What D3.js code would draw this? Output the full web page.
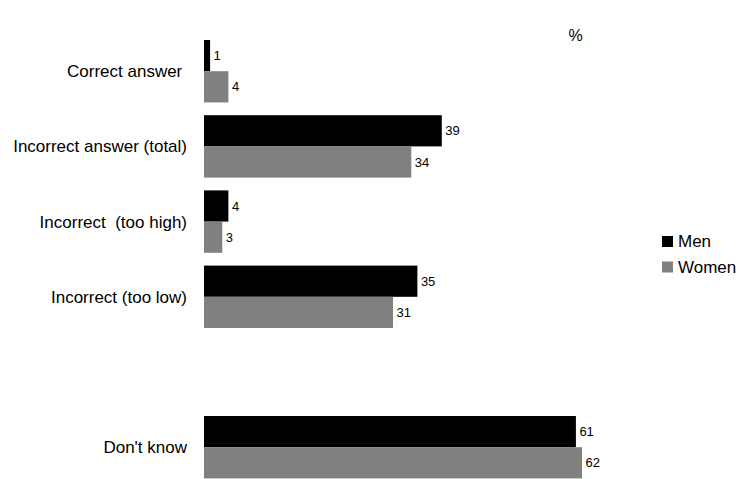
<!DOCTYPE html>
<html><head><meta charset="utf-8">
<script src="https://cdn.jsdelivr.net/npm/d3@7"></script>
<style>body{margin:0;background:#fff}svg{display:block;font-family:"Liberation Sans",Arial,sans-serif}</style>
</head><body><svg id="c" width="739" height="479"></svg>
<script>
const categories = ["Correct answer ", "Incorrect answer (total)", "Incorrect  (too high)", "Incorrect (too low)", "", "Don't know"];
const men = [1, 39, 4, 35, null, 61];
const women = [4, 34, 3, 31, null, 62];
const seriesNames = ["Men", "Women"];
const colors = ["#000000", "#808080"];

const svg = d3.select("#c");
const y = d3.scaleBand().domain(categories.map((c,i)=>i)).range([33.6, 484.8]).paddingInner(0.17).paddingOuter(0.085);
const y2 = d3.scaleBand().domain([0,1]).range([0, y.bandwidth()]);
const x = d3.scaleLinear().domain([0, 62]).range([204, 582]);

const data = [men, women];
data.forEach((vals, s) => {
  const g = svg.append("g");
  vals.forEach((v, i) => {
    if (v == null) return;
    const yy = y(i) + y2(s);
    g.append("rect").attr("x", x(0)).attr("y", yy).attr("width", x(v) - x(0)).attr("height", y2.bandwidth()).attr("fill", colors[s]);
    g.append("text").attr("x", x(v) + 3.5).attr("y", yy + y2.bandwidth()/2).attr("dy", "0.35em")
      .attr("font-size", 13).attr("fill", "#000").text(v);
  });
});

categories.forEach((c, i) => {
  if (!c) return;
  svg.append("text").attr("x", 187).attr("y", y(i) + y.bandwidth()/2).attr("dy", "0.35em")
    .attr("text-anchor", "end").attr("font-size", 17).attr("fill", "#000").style("white-space","pre").text(c);
});

seriesNames.forEach((n, s) => {
  const ly = 236 + s * 25.5;
  svg.append("rect").attr("x", 662).attr("y", ly).attr("width", 11).attr("height", 11).attr("fill", colors[s]);
  svg.append("text").attr("x", 678).attr("y", ly + 5.5).attr("dy", "0.35em").attr("font-size", 17).text(n);
});

svg.append("text").attr("x", 575.5).attr("y", 35).attr("dy", "0.35em").attr("text-anchor", "middle").attr("font-size", 16).text("%");
</script></body></html>
